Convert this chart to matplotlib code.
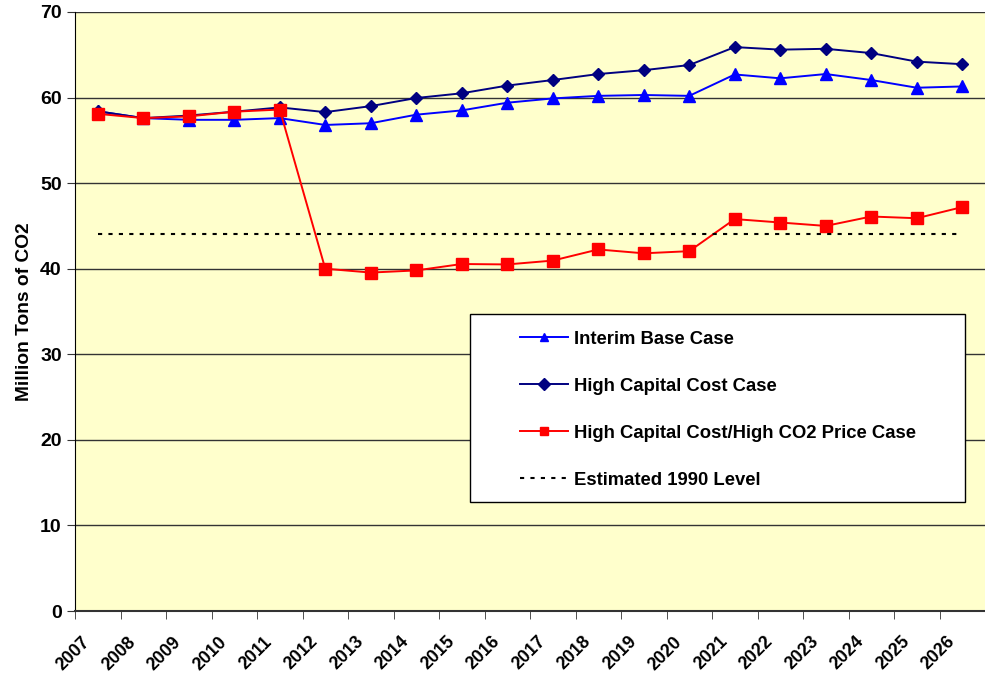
import matplotlib
matplotlib.use("Agg")
import matplotlib.pyplot as plt
import matplotlib.transforms as mtransforms
from matplotlib.patches import Rectangle

plt.rcParams["font.family"] = ["Liberation Sans", "DejaVu Sans"]
plt.rcParams["font.weight"] = "bold"

years = [str(y) for y in range(2007, 2027)]
interim_base = [58.4, 57.6, 57.4, 57.4, 57.6, 56.8, 57.0, 58.0, 58.5, 59.4,
                59.9, 60.2, 60.3, 60.2, 62.7, 62.25, 62.75, 62.05, 61.15, 61.3]
high_capital = [58.4, 57.6, 57.9, 58.35, 58.85, 58.3, 59.0, 59.95, 60.5, 61.4,
                62.05, 62.75, 63.2, 63.8, 65.9, 65.6, 65.7, 65.2, 64.2, 63.9]
high_co2 = [58.1, 57.6, 57.8, 58.35, 58.6, 40.0, 39.55, 39.8, 40.55, 40.5,
            40.95, 42.25, 41.8, 42.05, 45.8, 45.4, 45.0, 46.1, 45.9, 47.2]
level_1990 = 44.0

fig = plt.figure(figsize=(9.85, 6.74), dpi=100)
ax = fig.add_axes([75 / 985, 63 / 674, 910 / 985, 599 / 674])
ax.set_facecolor("#FFFFCC")

x = list(range(len(years)))
ax.plot(x, interim_base, color="#0000FF", lw=1.4, marker="^", ms=8,
        label="Interim Base Case")
ax.plot(x, high_capital, color="#000080", lw=1.4, marker="D", ms=6,
        label="High Capital Cost Case")
ax.plot(x, high_co2, color="#FF0000", lw=1.4, marker="s", ms=8,
        label="High Capital Cost/High CO2 Price Case")
ax.plot(x, [level_1990] * len(x), color="black", lw=1.5, ls=(0, (2, 3)),
        label="Estimated 1990 Level")

ax.set_xlim(-0.5, len(years) - 0.5)
ax.set_ylim(0, 70)
ax.set_yticks(range(0, 71, 10))
ax.yaxis.grid(True, color="#333333", lw=1)
ax.set_axisbelow(True)

ax.set_xticks(x)
ax.set_xticklabels(years, rotation=45, ha="right", va="top", fontsize=12.8)
ax.set_xticks([i - 0.5 for i in range(len(years) + 1)], minor=True)
ax.tick_params(axis="x", which="major", length=0, pad=16)
ax.tick_params(axis="x", which="minor", length=6, color="#333333")
ax.tick_params(axis="y", length=6, labelsize=14, color="#333333")
offset = mtransforms.ScaledTranslation(-4 / 100, 0, fig.dpi_scale_trans)
for lab in ax.get_xticklabels():
    lab.set_transform(lab.get_transform() + offset)

for s in ["top", "right"]:
    ax.spines[s].set_visible(False)
ax.spines["left"].set_color("black")
ax.spines["bottom"].set_color("#333333")
ax.spines["bottom"].set_linewidth(1.5)

ax.set_ylabel("Million Tons of CO2", fontsize=13.8, fontweight="bold", labelpad=5)

# legend box drawn separately so the entries can sit inset from its left edge
ax.add_patch(Rectangle((0.434, 0.182), 0.544, 0.314, transform=ax.transAxes,
                       facecolor="white", edgecolor="black", lw=1, zorder=4))
leg = ax.legend(loc="upper left", bbox_to_anchor=(0.479, 0.483),
                fontsize=13.3, frameon=False, handlelength=2.6,
                handletextpad=0.33, labelspacing=1.62, borderpad=0.5,
                borderaxespad=0)
leg.set_zorder(5)
for h in leg.legend_handles:
    h.set_markersize(6)

fig.savefig("out.png", dpi=100)
